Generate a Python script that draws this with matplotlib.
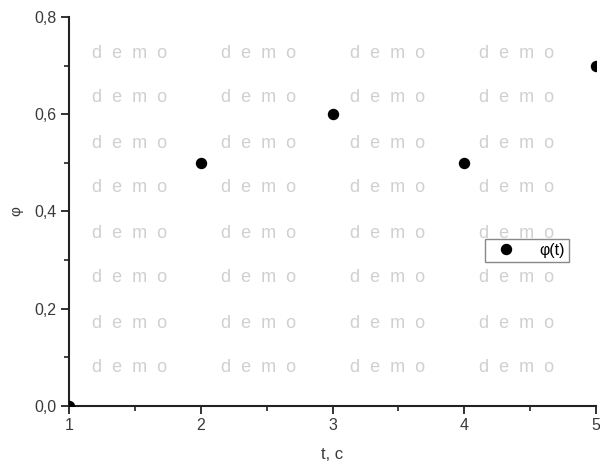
import matplotlib
matplotlib.use('Agg')
import matplotlib.pyplot as plt
from matplotlib.ticker import MultipleLocator, FuncFormatter

t = [1, 2, 3, 4, 5]
phi = [0.0, 0.5, 0.6, 0.5, 0.7]

plt.rcParams['font.family'] = ['Liberation Sans', 'DejaVu Sans']

fig = plt.figure(figsize=(6, 4.67), dpi=100)
ax = fig.add_axes([69 / 600, 1 - 406 / 467, 527 / 600, 389 / 467])

# watermark grid of "demo"
for row in range(8):
    for col in range(4):
        fig.text((129.5 + 129 * col) / 600, 1 - (53 + 45 * row) / 467, 'd  e  m  o',
                 ha='center', va='center', fontsize=13, color='#d0d0d0', zorder=0)

ax.plot(t, phi, 'o', color='black', markersize=7.2, label='φ(t)', zorder=3)

ax.set_xlim(1, 5)
ax.set_ylim(0, 0.8)
ax.patch.set_alpha(0)
for s in ['top', 'right']:
    ax.spines[s].set_visible(False)
for s in ['left', 'bottom']:
    ax.spines[s].set_linewidth(1.5)
    ax.spines[s].set_color('#222222')

ax.xaxis.set_major_locator(MultipleLocator(1))
ax.xaxis.set_minor_locator(MultipleLocator(0.5))
ax.yaxis.set_major_locator(MultipleLocator(0.2))
ax.yaxis.set_minor_locator(MultipleLocator(0.1))
ax.yaxis.set_major_formatter(FuncFormatter(lambda v, p: f'{v:.1f}'.replace('.', ',')))
ax.tick_params(which='major', direction='out', length=6, width=1.3, labelsize=11.5,
               labelcolor='#3a3a3a', color='#222222', pad=3)
ax.tick_params(which='minor', direction='out', length=3.5, width=1.2, color='#222222')

ax.set_xlabel('t, c', fontsize=12, color='#3a3a3a', labelpad=10)
ax.set_ylabel('φ', fontsize=11, color='#3a3a3a', labelpad=8)

leg = ax.legend(loc='center', bbox_to_anchor=(0.869, 0.401), fontsize=11.5,
                fancybox=False, framealpha=1, edgecolor='#888888',
                handletextpad=1.0, borderpad=0.25, handlelength=2.2,
                borderaxespad=0)
leg.get_frame().set_linewidth(1.0)

fig.savefig('out.png', dpi=100)
